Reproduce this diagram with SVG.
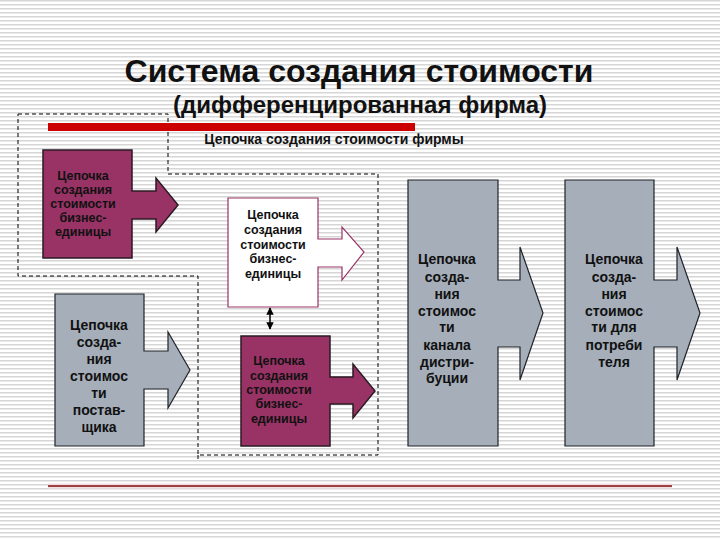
<svg xmlns="http://www.w3.org/2000/svg" width="720" height="540" viewBox="0 0 720 540">
<defs>
<pattern id="stripes" width="8" height="4" patternUnits="userSpaceOnUse">
<rect width="8" height="4" fill="#ffffff"/>
<rect y="0" width="8" height="1.5" fill="#d6d6d6"/>
</pattern>
<marker id="ah" viewBox="0 0 10 10" refX="9" refY="5" markerWidth="5" markerHeight="5" orient="auto-start-reverse">
<path d="M0,0 L10,5 L0,10 Z" fill="#000"/>
</marker>
<style>
.t{font-family:"Liberation Sans",Arial,sans-serif;font-weight:bold;text-anchor:middle;fill:#111}
.purple{fill:#993366;stroke:#2a1a22;stroke-width:1.5}
.gray{fill:#a5aeb9;stroke:#1f2329;stroke-width:1.2}
.white{fill:#ffffff;stroke:#993366;stroke-width:1.2}
.sm{font-size:12.5px}
.md{font-size:14px}
.dash{fill:none;stroke:#000;stroke-width:1;stroke-dasharray:4,3}
</style>
</defs>
<rect width="720" height="540" fill="url(#stripes)"/>

<text class="t" x="359" y="82" font-size="32">Система создания стоимости</text>
<text class="t" x="360" y="113" font-size="24">(дифференцированная фирма)</text>

<polygon class="dash" points="18,114 168,114 168,174 378,174 378,455 198,455 198,276 18,276"/>
<line class="dash" x1="198" y1="455" x2="198" y2="462"/>

<rect x="48" y="123" width="367" height="8" fill="#cc0000"/>
<text class="t" x="334" y="144" font-size="14">Цепочка создания стоимости фирмы</text>

<g id="bu1">
<polygon class="purple" points="43,150 132,150 132,191 156,191 156,178 178,205 156,232 156,219 132,219 132,258 43,258"/>
<text class="t sm"><tspan x="83" y="180">Цепочка</tspan><tspan x="83" y="194">создания</tspan><tspan x="83" y="208">стоимости</tspan><tspan x="83" y="222">бизнес-</tspan><tspan x="83" y="236">единицы</tspan></text>
</g>

<g id="supplier">
<polygon class="gray" points="55,294 144,294 144,351 168,351 168,332 190,370 168,408 168,389 144,389 144,446 55,446"/>
<text class="t md"><tspan x="99" y="330">Цепочка</tspan><tspan x="99" y="347">созда-</tspan><tspan x="99" y="364">ния</tspan><tspan x="99" y="381">стоимос</tspan><tspan x="99" y="398">ти</tspan><tspan x="99" y="415">постав-</tspan><tspan x="99" y="432">щика</tspan></text>
</g>

<g id="bu2">
<polygon class="white" points="228,198 318,198 318,239 342,239 342,227 364,252 342,280 342,267 318,267 318,307 228,307"/>
<text class="t sm"><tspan x="273" y="219">Цепочка</tspan><tspan x="273" y="234">создания</tspan><tspan x="273" y="249">стоимости</tspan><tspan x="273" y="263">бизнес-</tspan><tspan x="273" y="278">единицы</tspan></text>
</g>

<g id="bu3">
<polygon class="purple" points="241,336 330,336 330,377 353,377 353,364 375,391 353,418 353,404 330,404 330,446 241,446"/>
<text class="t sm"><tspan x="279" y="365">Цепочка</tspan><tspan x="279" y="380">создания</tspan><tspan x="279" y="394">стоимости</tspan><tspan x="279" y="408">бизнес-</tspan><tspan x="279" y="423">единицы</tspan></text>
</g>

<g id="channel">
<polygon class="gray" points="408,180 498,180 498,280 520,280 520,247 543,313 520,380 520,347 498,347 498,446 408,446"/>
<text class="t md"><tspan x="447" y="264">Цепочка</tspan><tspan x="447" y="282">созда-</tspan><tspan x="447" y="299">ния</tspan><tspan x="447" y="316">стоимос</tspan><tspan x="447" y="332">ти</tspan><tspan x="447" y="350">канала</tspan><tspan x="447" y="367">дистри-</tspan><tspan x="447" y="383">буции</tspan></text>
</g>

<g id="consumer">
<polygon class="gray" points="565,180 654,180 654,280 677,280 677,247 700,313 677,380 677,347 654,347 654,446 565,446"/>
<text class="t md"><tspan x="614" y="264">Цепочка</tspan><tspan x="614" y="282">созда-</tspan><tspan x="614" y="299">ния</tspan><tspan x="614" y="316">стоимос</tspan><tspan x="614" y="332">ти для</tspan><tspan x="614" y="350">потреби</tspan><tspan x="614" y="367">теля</tspan></text>
</g>

<g id="connectors">
<line x1="270" y1="308" x2="270" y2="329" stroke="#000" stroke-width="1.5" marker-start="url(#ah)" marker-end="url(#ah)"/>
</g>

<line x1="48" y1="486" x2="672" y2="486" stroke="#f4dede" stroke-width="5"/>
<line x1="48" y1="486" x2="672" y2="486" stroke="#7a1010" stroke-width="1.5"/>
</svg>
